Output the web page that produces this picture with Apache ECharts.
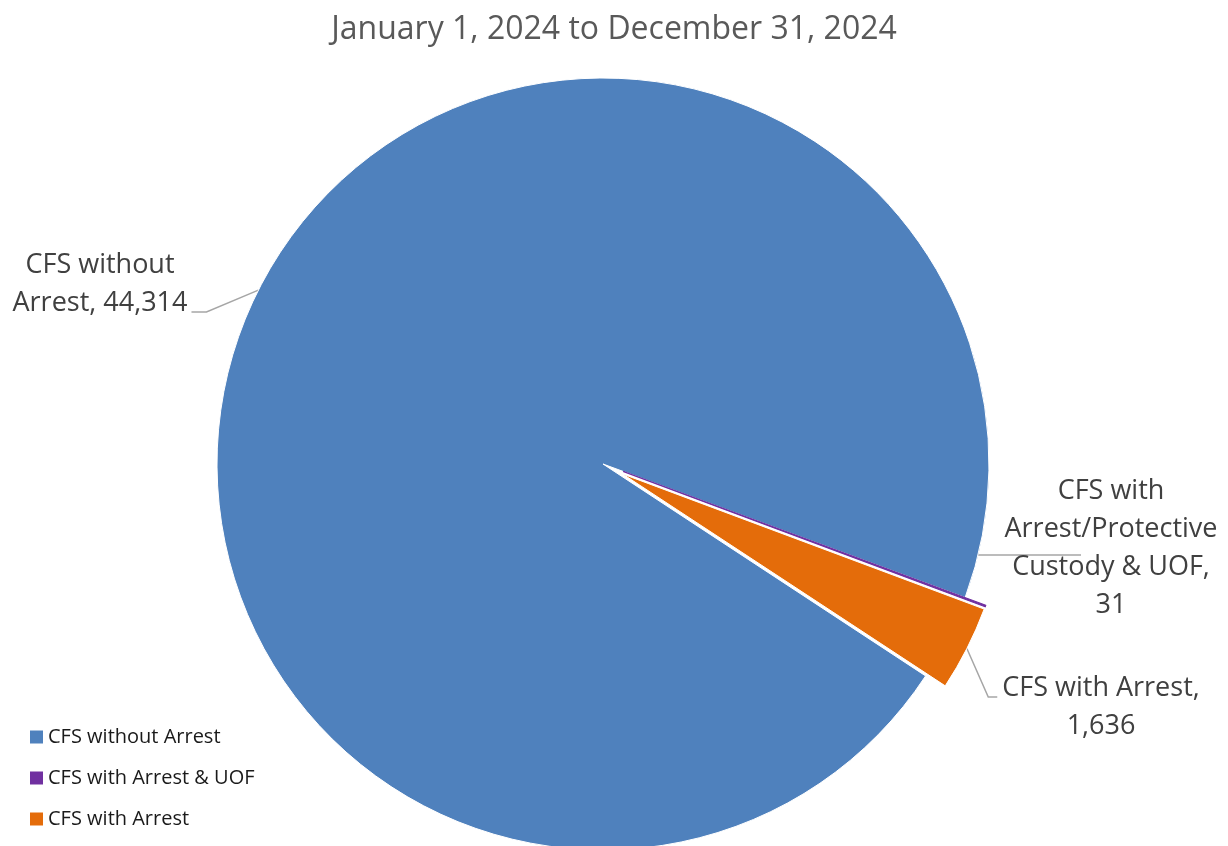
<!DOCTYPE html>
<html>
<head>
<meta charset="utf-8">
<script src="https://cdn.jsdelivr.net/npm/echarts@6/dist/echarts.min.js"></script>
<style>html,body{margin:0;padding:0;background:#fff}#c{width:1228px;height:846px}</style>
</head>
<body>
<div id="c"></div>
<script>
const titleText = 'January 1, 2024 to December 31, 2024';
const categories = ['CFS without Arrest', 'CFS with Arrest & UOF', 'CFS with Arrest'];
const labelTexts = ['CFS without\nArrest, ', 'CFS with\nArrest/Protective\nCustody & UOF,\n', 'CFS with Arrest,\n'];
const values = [44314, 31, 1636];
const colors = ['#4f81bd', '#7030a0', '#e46c0a'];
const explodedIndices = [1, 2];

const labelPos = [
  {x: 100, y: 284},
  {x: 1111, y: 548},
  {x: 1101, y: 707}
];

const CX = 603, CY = 464, R = 386, START = -33.3, OFFSET = 22;
const total = values.reduce((a, b) => a + b, 0);
function midRadOf(idx) {
  let before = 0;
  for (let i = 0; i < idx; i++) before += values[i];
  return (START - (before + values[idx] / 2) / total * 360) * Math.PI / 180;
}
function centerOf(idx) {
  if (explodedIndices.indexOf(idx) < 0) return [CX, CY];
  const a = midRadOf(idx);
  return [CX + OFFSET * Math.cos(a), CY - OFFSET * Math.sin(a)];
}

const fontFam = '"Open Sans", "Noto Sans", sans-serif';

function leaderPoints(idx, rect) {
  const [cx, cy] = centerOf(idx);
  const pos = labelPos[idx];
  const a = midRadOf(idx);
  const edge = [cx + R * Math.cos(a), cy - R * Math.sin(a)];
  const left = pos.x - rect.width / 2, right = pos.x + rect.width / 2;
  const bottom = pos.y + rect.height / 2;
  if (idx === 0) {
    const yEnd = bottom - 10;
    return [edge, [right + 19, yEnd], [right + 4, yEnd]];
  }
  if (idx === 1) {
    const y = pos.y + 7;
    const x0 = CX + Math.sqrt(R * R - (y - CY) * (y - CY));
    const x2 = pos.x - 30;
    return [[x0, y], [(x0 + x2) / 2, y], [x2, y]];
  }
  const yEnd = pos.y - 10;
  return [edge, [left - 14, yEnd], [left - 5, yEnd]];
}

function makeSeries(center, visibleFn) {
  return {
    type: 'pie',
    center: center,
    radius: R,
    startAngle: START,
    clockwise: true,
    silent: true,
    itemStyle: {borderColor: '#fff', borderWidth: 1},
    label: {
      position: 'outside',
      fontFamily: fontFam,
      fontSize: 27,
      lineHeight: 38,
      color: '#404040',
      align: 'center',
      overflow: 'none',
      formatter: function (p) {
        return labelTexts[p.dataIndex] + p.value.toLocaleString('en-US');
      }
    },
    labelLine: {length: 10, length2: 12, lineStyle: {color: '#a6a6a6', width: 1.5}},
    labelLayout: function (params) {
      const pos = labelPos[params.dataIndex];
      return {
        x: pos.x, y: pos.y, align: 'center', verticalAlign: 'middle',
        labelLinePoints: leaderPoints(params.dataIndex, params.labelRect)
      };
    },
    emphasis: {disabled: true},
    data: categories.map((n, i) => {
      const vis = visibleFn(i);
      let style;
      if (!vis) style = {color: 'rgba(0,0,0,0)', borderWidth: 0};
      else if (i === 1) style = {color: colors[i], borderColor: colors[i], borderWidth: 1.2};
      else style = {color: colors[i]};
      return {
        name: n,
        value: values[i],
        itemStyle: style,
        label: {show: vis},
        labelLine: {show: vis}
      };
    })
  };
}

const seriesList = [makeSeries([CX, CY], i => explodedIndices.indexOf(i) < 0)];
explodedIndices.slice().reverse().forEach(k => {
  seriesList.push(makeSeries(centerOf(k), i => i === k));
});

const chart = echarts.init(document.getElementById('c'));
chart.setOption({
  animation: false,
  title: {
    text: titleText,
    left: 'center',
    top: 9,
    textStyle: {fontFamily: fontFam, fontSize: 32, fontWeight: 'normal', color: '#595959'}
  },
  legend: {
    orient: 'vertical',
    left: 30,
    top: 727,
    padding: 0,
    itemWidth: 13,
    itemHeight: 13,
    itemGap: 21,
    icon: 'rect',
    selectedMode: false,
    textStyle: {fontFamily: fontFam, fontSize: 20, color: '#1a1a1a', lineHeight: 20},
    data: categories.map((n, i) => ({name: n, itemStyle: {color: colors[i], borderWidth: 0}}))
  },
  series: seriesList
});
</script>
</body>
</html>
